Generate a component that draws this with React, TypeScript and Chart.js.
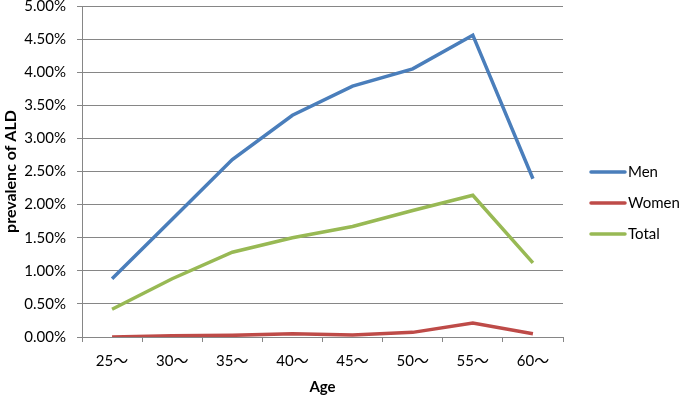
import React, { useEffect, useRef } from "react";
import { Chart, registerables } from "chart.js";

Chart.register(...registerables);

const categories = ["25〜", "30〜", "35〜", "40〜", "45〜", "50〜", "55〜", "60〜"];
const men = [0.88, 1.78, 2.68, 3.35, 3.79, 4.05, 4.56, 2.39];
const women = [0.0, 0.02, 0.025, 0.05, 0.03, 0.07, 0.21, 0.05];
const total = [0.42, 0.88, 1.28, 1.5, 1.67, 1.91, 2.14, 1.12];
const seriesNames = ["Men", "Women", "Total"];
const seriesColors = ["#4A7EBB", "#BE4B48", "#98B954"];

const FONT = "Lato, 'Noto Sans CJK JP', sans-serif";

const legendPlugin = {
  id: "customLegend",
  afterDraw(chart: any) {
    const ctx = chart.ctx;
    ctx.save();
    const ys = [172, 203, 234];
    chart.data.datasets.forEach((ds: any, i: number) => {
      const y = ys[i];
      ctx.strokeStyle = ds.borderColor;
      ctx.lineWidth = 3.5;
      ctx.lineCap = "round";
      ctx.beginPath();
      ctx.moveTo(591, y);
      ctx.lineTo(625, y);
      ctx.stroke();
      ctx.fillStyle = "#000";
      ctx.font = "15px " + FONT;
      ctx.textBaseline = "middle";
      ctx.textAlign = "left";
      ctx.fillText(ds.label, 628, y);
    });
    ctx.restore();
  },
};

export default function App() {
  const ref = useRef<HTMLCanvasElement>(null);
  useEffect(() => {
    if (!ref.current) return;
    const data = [men, women, total];
    const chart = new Chart(ref.current, {
      type: "line",
      data: {
        labels: categories,
        datasets: seriesNames.map((n, i) => ({
          label: n,
          data: data[i],
          borderColor: seriesColors[i],
          backgroundColor: seriesColors[i],
          borderWidth: 3.5,
          pointRadius: 0,
          tension: 0,
        })),
      },
      options: {
        animation: false,
        responsive: false,
        maintainAspectRatio: false,
        layout: { padding: { top: 6, right: 122, left: 0, bottom: 0 } },
        plugins: { legend: { display: false }, tooltip: { enabled: false } },
        scales: {
          x: {
            offset: true,
            grid: {
              offset: true,
              drawOnChartArea: false,
              drawTicks: true,
              tickLength: 5,
              color: "#868686",
            },
            border: { display: true, color: "#868686", width: 1 },
            ticks: { color: "#000", font: { family: FONT, size: 15 }, padding: 10, maxRotation: 0 },
            title: {
              display: true,
              text: "Age",
              color: "#000",
              font: { family: FONT, size: 15, weight: "bold" },
              padding: { top: 0, bottom: 0 },
            },
            afterFit: (s: any) => {
              s.height = 59;
              s.paddingLeft = 0;
              s.paddingRight = 0;
            },
          },
          y: {
            min: 0,
            max: 5,
            ticks: {
              stepSize: 0.5,
              color: "#000",
              font: { family: FONT, size: 15 },
              padding: 11,
              callback: (v: any) => Number(v).toFixed(2) + "%",
            },
            grid: { color: "#868686", tickLength: 5, lineWidth: 1 },
            border: { display: true, color: "#868686", width: 1 },
            title: {
              display: true,
              text: "prevalenc of ALD",
              color: "#000",
              font: { family: FONT, size: 16, weight: "bold" },
              padding: { top: 1, bottom: 0 },
            },
            afterFit: (s: any) => {
              s.width = 82;
              s.paddingTop = 0;
              s.paddingBottom = 0;
            },
          },
        },
      },
      plugins: [legendPlugin],
    });
    return () => chart.destroy();
  }, []);
  return (
    <div style={{ position: "fixed", left: 0, top: 0, width: 685, height: 396, background: "#fff" }}>
      <canvas ref={ref} width={685} height={396} style={{ width: 685, height: 396 }} />
    </div>
  );
}
